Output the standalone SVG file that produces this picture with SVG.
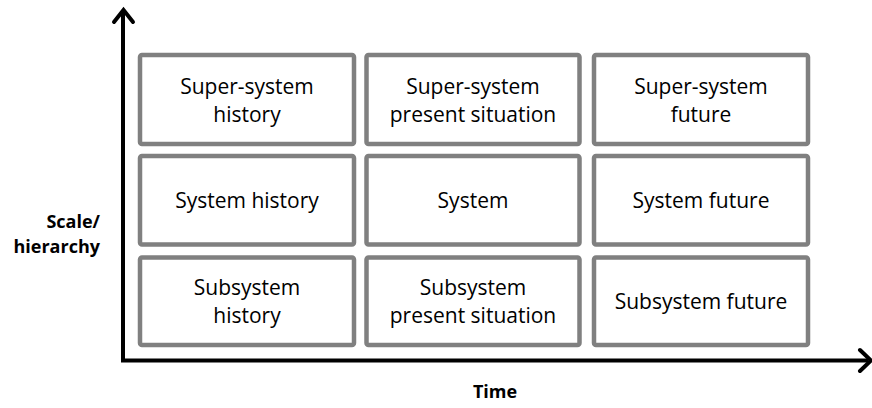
<svg xmlns="http://www.w3.org/2000/svg" width="872" height="408" viewBox="0 0 872 408">
  <style>
    .box { fill: #ffffff; stroke: #808080; stroke-width: 4.5; }
    .lbl { font-family: "Open Sans", "Liberation Sans", sans-serif; font-size: 21px; fill: #000000; text-anchor: middle; }
    .axl { font-family: "Open Sans", "Liberation Sans", sans-serif; font-size: 18px; font-weight: bold; fill: #000000; }
    .axis { fill: none; stroke: #000000; stroke-width: 4; }
  </style>
  <rect width="872" height="408" fill="#ffffff"/>
  <g id="connectors">
    <polyline class="axis" points="123,11 123,360.5 868,360.5" stroke-linejoin="miter"/>
    <polyline class="axis" points="114,22 123.5,10 133,22" stroke-linejoin="miter" stroke-linecap="round"/>
    <polyline class="axis" points="860,350 871,360.5 860,371" stroke-linejoin="miter" stroke-linecap="round"/>
  </g>
  <g id="axis-y-label">
    <text class="axl" x="100" y="228" text-anchor="end">Scale/</text>
    <text class="axl" x="100" y="253" text-anchor="end">hierarchy</text>
  </g>
  <g id="axis-x-label">
    <text class="axl" x="495" y="398" text-anchor="middle">Time</text>
  </g>
  <g id="super-system-history">
    <rect class="box" x="140" y="55" width="214" height="89" rx="2"/>
    <text class="lbl" x="247" y="94">Super-system</text>
    <text class="lbl" x="247" y="122">history</text>
  </g>
  <g id="super-system-present">
    <rect class="box" x="366.5" y="55" width="213" height="89" rx="2"/>
    <text class="lbl" x="473" y="94">Super-system</text>
    <text class="lbl" x="473" y="122">present situation</text>
  </g>
  <g id="super-system-future">
    <rect class="box" x="594" y="55" width="214" height="89" rx="2"/>
    <text class="lbl" x="701" y="94">Super-system</text>
    <text class="lbl" x="701" y="122">future</text>
  </g>
  <g id="system-history">
    <rect class="box" x="140" y="156" width="214" height="88.5" rx="2"/>
    <text class="lbl" x="247" y="207.5">System history</text>
  </g>
  <g id="system">
    <rect class="box" x="366.5" y="156" width="213" height="88.5" rx="2"/>
    <text class="lbl" x="473" y="207.5">System</text>
  </g>
  <g id="system-future">
    <rect class="box" x="594" y="156" width="214" height="88.5" rx="2"/>
    <text class="lbl" x="701" y="207.5">System future</text>
  </g>
  <g id="subsystem-history">
    <rect class="box" x="140" y="257.5" width="214" height="87.5" rx="2"/>
    <text class="lbl" x="247" y="294.5">Subsystem</text>
    <text class="lbl" x="247" y="323">history</text>
  </g>
  <g id="subsystem-present">
    <rect class="box" x="366.5" y="257.5" width="213" height="87.5" rx="2"/>
    <text class="lbl" x="473" y="294.5">Subsystem</text>
    <text class="lbl" x="473" y="323">present situation</text>
  </g>
  <g id="subsystem-future">
    <rect class="box" x="594" y="257.5" width="214" height="87.5" rx="2"/>
    <text class="lbl" x="701" y="308.5">Subsystem future</text>
  </g>
</svg>
